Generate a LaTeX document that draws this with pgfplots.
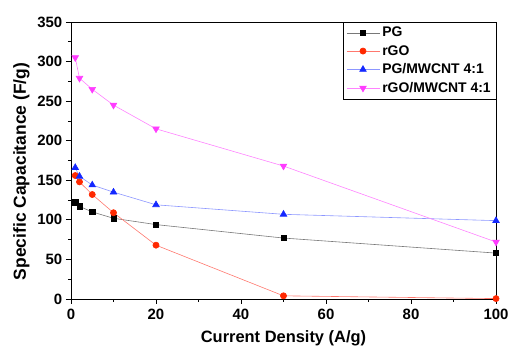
\documentclass[border=0pt]{standalone}
\usepackage{pgfplots}
\pgfplotsset{compat=1.18}
\usepackage{fontspec}
\setmainfont{Liberation Sans}
\definecolor{pgline}{RGB}{120,120,120}
\definecolor{rgomark}{RGB}{255,40,0}
\definecolor{rgoline}{RGB}{255,120,110}
\definecolor{pmmark}{RGB}{20,40,255}
\definecolor{pmline}{RGB}{140,150,255}
\definecolor{rmmark}{RGB}{255,60,255}
\definecolor{rmline}{RGB}{255,130,255}
\begin{document}
\begin{tikzpicture}
\begin{axis}[
  name=main,
  scale only axis,
  width=425bp, height=277bp,
  xmin=0, xmax=100, ymin=0, ymax=350,
  xtick={0,20,...,100}, ytick={0,50,...,350},
  minor xtick={10,30,50,70,90},
  minor ytick={25,75,...,325},
  tick align=outside,
  tick pos=left,
  major tick length=5bp, minor tick length=3bp,
  tick style={black, line width=0.8pt},
  axis line style={line width=0.9pt},
  /pgf/number format/assume math mode=true,
  ticklabel style={font=\fontsize{15}{17}\selectfont\bfseries},
  xticklabel style={inner sep=1.5bp, yshift=-3bp},
  yticklabel style={inner sep=3.5bp},
  xlabel={Current Density (A/g)},
  ylabel={Specific Capacitance (F/g)},
  xlabel style={font=\fontsize{16.5}{18}\selectfont\bfseries, inner sep=0pt, yshift=-10bp},
  ylabel style={font=\fontsize{17.5}{19}\selectfont\bfseries, inner sep=0pt, yshift=4bp, xshift=-11bp},
  legend style={at={(1,1)}, anchor=north east, font=\fontsize{14}{15}\selectfont\bfseries, draw=black, line width=0.5pt, row sep=3bp, inner sep=3bp},
  legend image code/.code={\draw[mark repeat=2,mark phase=2] plot coordinates {(0bp,0bp) (16bp,0bp) (33bp,0bp)};},
  legend cell align=left,
]
\addplot[pgline, line width=0.6pt, mark=square*, mark size=2.7pt, mark options={black, fill=black}]
 coordinates {(1,122) (2,117) (5,110) (10,102) (20,94) (50,77) (100,58)};
\addlegendentry{PG}
\addplot[rgoline, line width=0.6pt, mark=*, mark size=3.1pt, mark options={rgomark, fill=rgomark}]
 coordinates {(1,156) (2,148) (5,132) (10,109) (20,68) (50,4) (100,0.5)};
\addlegendentry{rGO}
\addplot[pmline, line width=0.6pt, mark=triangle*, mark size=3.8pt, mark options={pmmark, fill=pmmark}]
 coordinates {(1,166) (2,155) (5,144) (10,135) (20,119) (50,107) (100,99)};
\addlegendentry{PG/MWCNT 4:1}
\addplot[rmline, line width=0.6pt, mark=triangle*, mark size=3.8pt, mark options={rmmark, fill=rmmark, rotate=180}]
 coordinates {(1,305) (2,279) (5,265) (10,245) (20,215) (50,168) (100,72)};
\addlegendentry{rGO/MWCNT 4:1}
\end{axis}
\path ([shift={(-71bp,-46bp)}]main.south west) rectangle ([shift={(15bp,22bp)}]main.north east);
\end{tikzpicture}
\end{document}
